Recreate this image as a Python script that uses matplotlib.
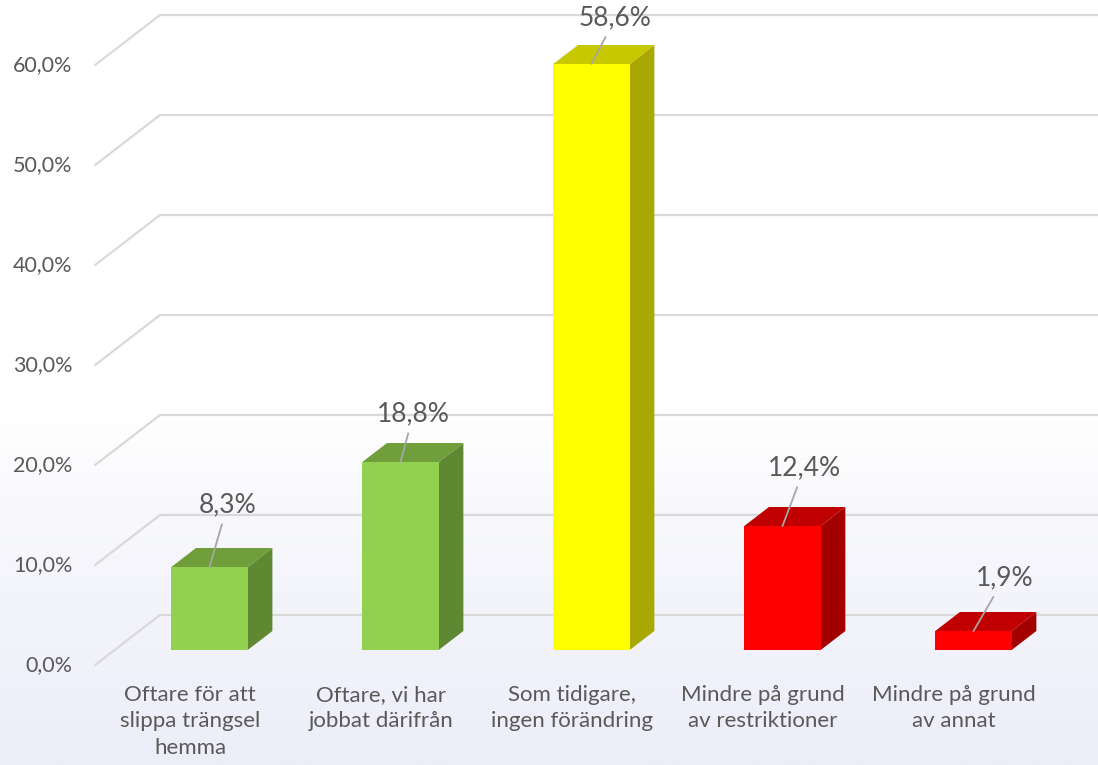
import numpy as np
import matplotlib

matplotlib.use("Agg")
import matplotlib.pyplot as plt
from matplotlib.patches import Polygon
from matplotlib.colors import LinearSegmentedColormap

categories = [
    "Oftare för att\nslippa trängsel\nhemma",
    "Oftare, vi har\njobbat därifrån",
    "Som tidigare,\ningen förändring",
    "Mindre på grund\nav restriktioner",
    "Mindre på grund\nav annat",
]
values = [8.3, 18.8, 58.6, 12.4, 1.9]
ticks = [0, 10, 20, 30, 40, 50, 60]

# front / top / side colours per bar
front_colors = ["#92D050", "#92D050", "#FFFF00", "#FF0000", "#FF0000"]
top_colors = ["#6F9E3B", "#6F9E3B", "#C8C800", "#C00000", "#C00000"]
side_colors = ["#5E8832", "#5E8832", "#A8A800", "#A30000", "#A30000"]
# label offsets (pixels) from top-front centre of each bar
label_offsets = [(18, 62), (13, 48), (24, 46), (22, 58), (31, 53)]

TEXT = "#595959"
GRID = "#D9D9D9"
plt.rcParams["font.family"] = ["Lato", "DejaVu Sans"]

# depth of the floor in data units (category units, percent units)
DEPTH_X = 0.34
DEPTH_Y = 5.0
BAR_POS = 0.30   # where the front of the bar sits in the depth
BAR_DEPTH = 0.38
BAR_W = 0.40

XLIM = (-0.995, 4.754)
YLIM = (-10.0, 66.5)


def draw_background(ax):
    rows = np.linspace(0, 1, 400).reshape(-1, 1)  # 0 = top, 1 = bottom
    grad = np.clip((rows - 0.55) / 0.45, 0, 1) ** 0.8
    cmap = LinearSegmentedColormap.from_list("bg", ["#FFFFFF", "#ECEDF8"])
    ax.imshow(grad, cmap=cmap, vmin=0, vmax=1, aspect="auto",
              extent=(XLIM[0], XLIM[1], YLIM[0], YLIM[1]), origin="upper",
              zorder=0)


def draw_grid(ax, x_left, x_right):
    for t in ticks:
        ax.plot([x_left, x_left + DEPTH_X, x_right],
                [t, t + DEPTH_Y, t + DEPTH_Y],
                color=GRID, lw=1.6, solid_capstyle="round", zorder=1)
        ax.text(x_left - 0.12, t, f"{t:.1f}%".replace(".", ","),
                ha="right", va="center", fontsize=15.5, color=TEXT)


def draw_bars(ax):
    fx = BAR_POS * DEPTH_X
    fy = BAR_POS * DEPTH_Y
    dx = BAR_DEPTH * DEPTH_X
    dy = BAR_DEPTH * DEPTH_Y
    for i, v in enumerate(values):
        x0 = i + fx - BAR_W / 2
        x1 = i + fx + BAR_W / 2
        y0 = fy
        y1 = fy + v
        side = Polygon([(x1, y0), (x1 + dx, y0 + dy), (x1 + dx, y1 + dy), (x1, y1)],
                       closed=True, fc=side_colors[i], ec="none", zorder=3)
        top = Polygon([(x0, y1), (x1, y1), (x1 + dx, y1 + dy), (x0 + dx, y1 + dy)],
                      closed=True, fc=top_colors[i], ec="none", zorder=3)
        front = Polygon([(x0, y0), (x1, y0), (x1, y1), (x0, y1)],
                        closed=True, fc=front_colors[i], ec="none", zorder=4)
        for p in (side, top, front):
            ax.add_patch(p)
        ox, oy = label_offsets[i]
        ax.annotate(f"{v:.1f}%".replace(".", ","), xy=(i + fx, y1),
                    xytext=(ox, oy), textcoords="offset pixels",
                    ha="center", va="center", fontsize=19, color=TEXT, zorder=6,
                    arrowprops=dict(arrowstyle="-", color="#A6A6A6", lw=1.3,
                                    shrinkA=3, shrinkB=0))


def main():
    fig = plt.figure(figsize=(10.98, 7.65), dpi=100)
    ax = fig.add_axes([0, 0, 1, 1])
    ax.set_xlim(*XLIM)
    ax.set_ylim(*YLIM)
    ax.axis("off")

    draw_background(ax)
    draw_grid(ax, -0.497, XLIM[1])
    draw_bars(ax)

    for i, c in enumerate(categories):
        ax.text(i, -2.0, c, ha="center", va="top", fontsize=16,
                color=TEXT, linespacing=1.4)

    fig.savefig("out.png", dpi=100)


if __name__ == "__main__":
    main()
